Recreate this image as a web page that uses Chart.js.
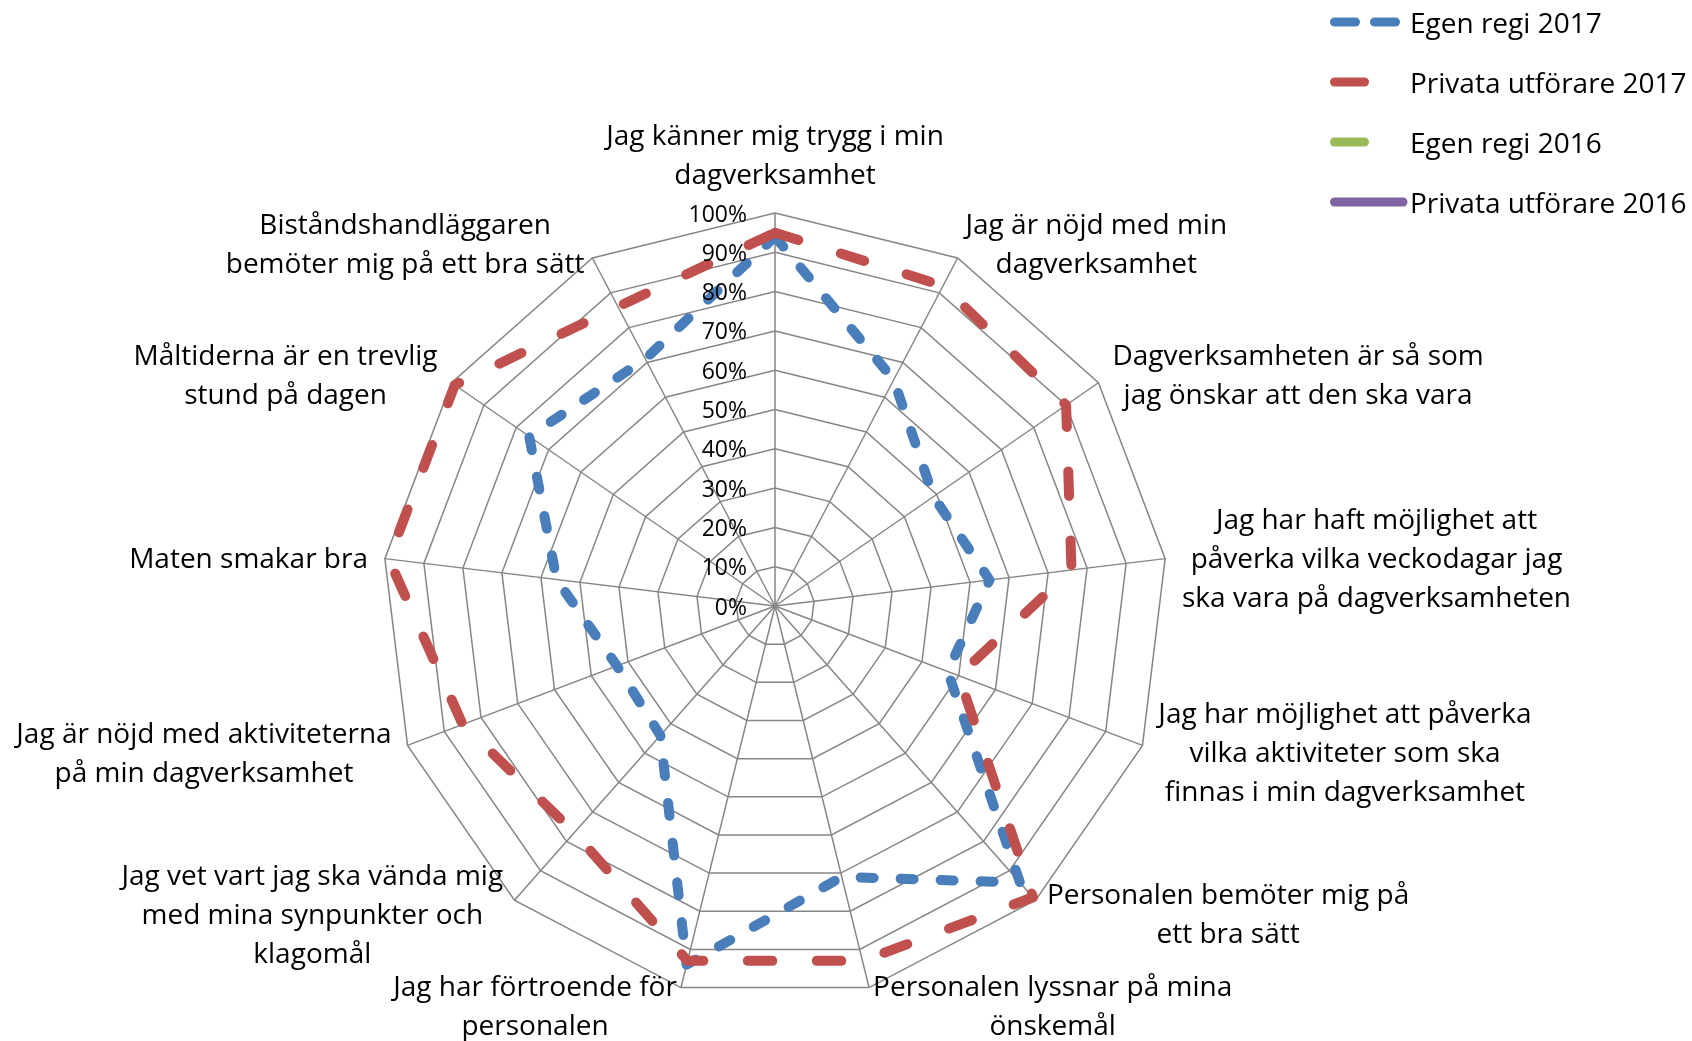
<!DOCTYPE html>
<html>
<head>
<meta charset="utf-8">
<script src="https://cdn.jsdelivr.net/npm/chart.js@4.4.0/dist/chart.umd.min.js"></script>
<style>
  html, body { margin: 0; padding: 0; background: #fff; }
  #wrap { width: 1692px; height: 1041px; }
</style>
</head>
<body>
<div id="wrap"><canvas id="radarChart" width="1692" height="1041"></canvas></div>
<script>
// Categories (one array entry per line of the label)
const categories = [
    ['Jag känner mig trygg i min', 'dagverksamhet'],
    ['Jag är nöjd med min', 'dagverksamhet'],
    ['Dagverksamheten är så som', 'jag önskar att den ska vara'],
    ['Jag har haft möjlighet att', 'påverka vilka veckodagar jag', 'ska vara på dagverksamheten'],
    ['Jag har möjlighet att påverka', 'vilka aktiviteter som ska', 'finnas i min dagverksamhet'],
    ['Personalen bemöter mig på', 'ett bra sätt'],
    ['Personalen lyssnar på mina', 'önskemål'],
    ['Jag har förtroende för', 'personalen'],
    ['Jag vet vart jag ska vända mig', 'med mina synpunkter och', 'klagomål'],
    ['Jag är nöjd med aktiviteterna', 'på min dagverksamhet'],
    ['Maten smakar bra'],
    ['Måltiderna är en trevlig', 'stund på dagen'],
    ['Biståndshandläggaren', 'bemöter mig på ett bra sätt']
];

// Series values (%)
const egenRegi2017 = [94, 65, 49, 55, 47, 94, 71, 94, 44, 43, 56, 76, 71];
const privata2017 = [95, 92, 90, 76, 50, 99, 93, 93, 77, 85, 99, 99, 86];
const egenRegi2016 = [];
const privata2016 = [];

// Tick labels
const tickValues = [0, 10, 20, 30, 40, 50, 60, 70, 80, 90, 100];
const tickLabels = tickValues.map(v => v + '%');

const FONT = '"Open Sans", "Noto Sans", sans-serif';

// Draws the Excel-style axis texts and legend
const excelText = {
    id: 'excelText',
    afterDatasetsDraw(chart) {
        const ctx = chart.ctx;
        const scale = chart.scales.r;
        ctx.save();
        ctx.font = '23px ' + FONT;
        ctx.fillStyle = '#000';
        ctx.textAlign = 'right';
        ctx.textBaseline = 'middle';
        tickValues.forEach((v, i) => {
            const p = scale.getPointPositionForValue(0, v);
            ctx.fillText(tickLabels[i], p.x - 28, p.y + 2);
        });
        ctx.restore();
    },
    afterDraw(chart) {
        const ctx = chart.ctx;
        const scale = chart.scales.r;
        const lineH = 39;

        // Category labels
        ctx.save();
        ctx.font = '28px ' + FONT;
        ctx.fillStyle = '#000';
        ctx.textAlign = 'center';
        ctx.textBaseline = 'middle';
        categories.forEach((lines, i) => {
            const v = scale.getPointPosition(i, scale.drawingArea);
            const dx = (v.x - scale.xCenter) / scale.drawingArea;
            const dy = (v.y - scale.yCenter) / scale.drawingArea;
            const ax = v.x + dx * 17;
            const ay = v.y + dy * 17;
            const w = Math.max(...lines.map(l => ctx.measureText(l).width));
            const h = lines.length * lineH;
            let cx, cy;
            if (Math.abs(dx) < 0.05) {
                cx = ax;
                cy = dy < 0 ? ay - 3 - h / 2 : ay + 3 + h / 2;
            } else {
                cx = dx > 0 ? ax + w / 2 : ax - w / 2;
                cy = ay;
            }
            lines.forEach((l, j) => {
                ctx.fillText(l, cx, cy + 3 + (j - (lines.length - 1) / 2) * lineH);
            });
        });
        ctx.restore();

        // Legend
        ctx.save();
        ctx.font = '28px ' + FONT;
        ctx.textAlign = 'left';
        ctx.textBaseline = 'middle';
        chart.data.datasets.forEach((ds, i) => {
            const y = 22 + i * 60;
            ctx.strokeStyle = ds.borderColor;
            ctx.lineWidth = 9;
            ctx.lineCap = 'round';
            ctx.setLineDash(ds.legendDash || []);
            ctx.beginPath();
            ctx.moveTo(1334.5, y);
            ctx.lineTo(ds.legendEnd, y);
            ctx.stroke();
            ctx.setLineDash([]);
            ctx.fillStyle = '#000';
            ctx.fillText(ds.label, 1410, y + 3);
        });
        ctx.restore();
    }
};

document.addEventListener('DOMContentLoaded', function() {
    const ctx = document.getElementById('radarChart').getContext('2d');
    if (typeof Chart === 'undefined') {
        console.error('Chart.js is not loaded.');
        return;
    }
    const radarChart = new Chart(ctx, {
        type: 'radar',
        data: {
            labels: categories,
            datasets: [{
                label: 'Egen regi 2017',
                data: egenRegi2017,
                borderColor: '#4A7EBB',
                borderWidth: 10,
                borderDash: [13, 27],
                borderCapStyle: 'round',
                borderJoinStyle: 'round',
                fill: false,
                pointRadius: 0,
                tension: 0,
                order: 1,
                legendDash: [21, 19],
                legendEnd: 1395.5
            }, {
                label: 'Privata utförare 2017',
                data: privata2017,
                borderColor: '#C0504D',
                borderWidth: 10,
                borderDash: [24.5, 44.5],
                borderCapStyle: 'round',
                borderJoinStyle: 'round',
                fill: false,
                pointRadius: 0,
                tension: 0,
                order: 0,
                legendEnd: 1364.5
            }, {
                label: 'Egen regi 2016',
                data: egenRegi2016,
                borderColor: '#9BBB59',
                borderWidth: 10,
                fill: false,
                pointRadius: 0,
                order: 2,
                legendEnd: 1364.5
            }, {
                label: 'Privata utförare 2016',
                data: privata2016,
                borderColor: '#8064A2',
                borderWidth: 10,
                fill: false,
                pointRadius: 0,
                order: 3,
                legendEnd: 1403
            }]
        },
        options: {
            responsive: false,
            devicePixelRatio: 1,
            animation: false,
            layout: {
                padding: { left: 382, right: 524, top: 213, bottom: 42 }
            },
            scales: {
                r: {
                    min: 0,
                    max: 100,
                    ticks: { stepSize: 10, display: false },
                    pointLabels: { display: false },
                    grid: { color: '#868686', lineWidth: 1.5 },
                    angleLines: { color: '#868686', lineWidth: 1.5 }
                }
            },
            plugins: {
                legend: { display: false },
                tooltip: { enabled: false }
            }
        },
        plugins: [excelText]
    });
});
</script>
</body>
</html>
